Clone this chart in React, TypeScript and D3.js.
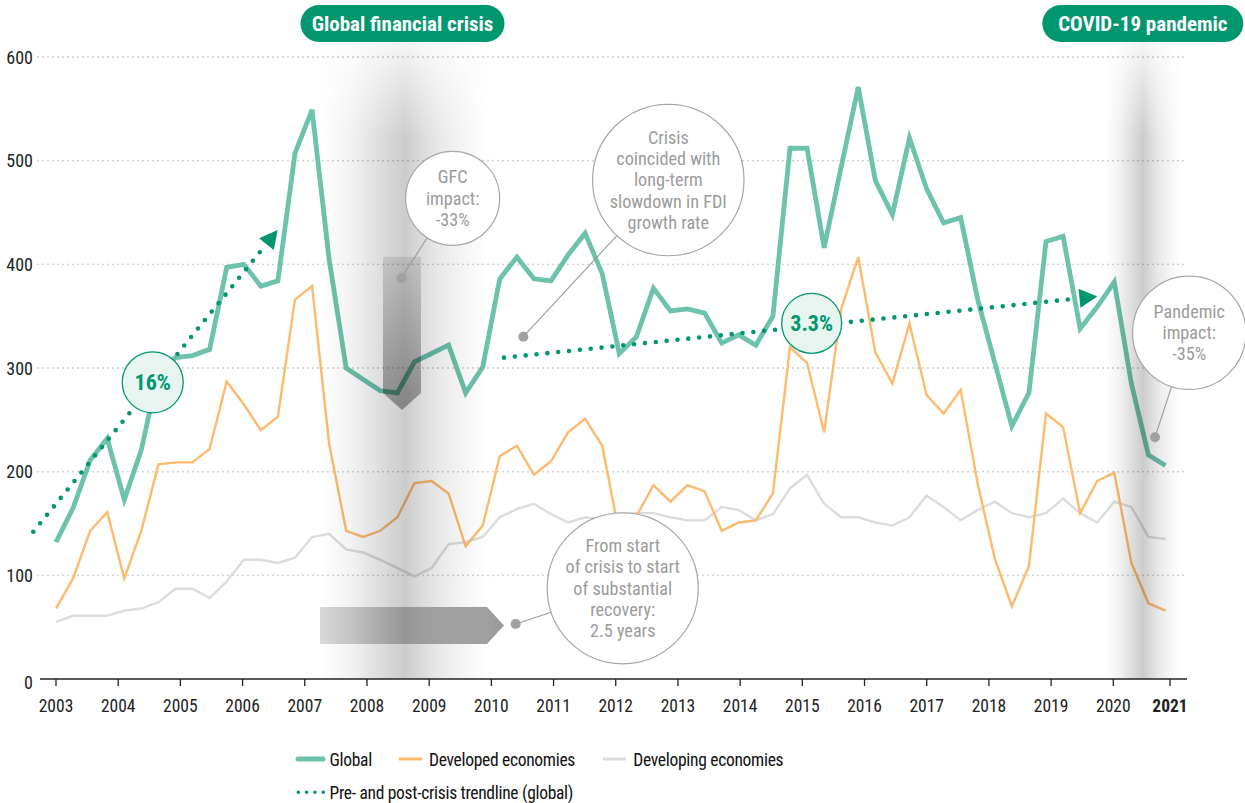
import React from "react";
import * as d3 from "d3";

// ---------- data ----------
const yearTicks = [2003, 2004, 2005, 2006, 2007, 2008, 2009, 2010, 2011, 2012, 2013, 2014, 2015, 2016, 2017, 2018, 2019, 2020, 2021];
const yTicks = [0, 100, 200, 300, 400, 500, 600];

const globalFDI = [
  132, 165, 211, 232, 173, 221, 297, 310, 312, 318, 397, 400, 379, 384, 507, 549,
  405, 300, 289, 278, 276, 306, 314, 322, 276, 301, 386, 407, 386, 384, 409, 430,
  391, 314, 330, 377, 355, 357, 353, 324, 332, 322, 350, 512, 512, 416, 494, 571,
  481, 448, 522, 473, 440, 445, 366, 305, 244, 276, 422, 427, 338, 359, 383, 285,
  216, 206,
];
const developedFDI = [
  68, 97, 143, 161, 97, 143, 207, 209, 209, 222, 287, 265, 240, 253, 366, 379,
  227, 143, 137, 143, 156, 189, 191, 179, 128, 148, 215, 225, 197, 210, 238, 251,
  225, 140, 157, 187, 171, 187, 181, 143, 151, 153, 179, 320, 305, 238, 357, 407,
  315, 285, 343, 274, 256, 279, 188, 116, 70, 109, 256, 243, 160, 191, 199, 112,
  73, 66,
];
const developingFDI = [
  55, 61, 61, 61, 66, 68, 74, 87, 87, 78, 94, 115, 115, 112, 117, 137,
  140, 125, 122, 115, 107, 99, 107, 130, 132, 137, 156, 164, 169, 159, 151, 156,
  154, 158, 160, 160, 156, 153, 153, 166, 163, 153, 159, 184, 197, 169, 156, 156,
  151, 148, 156, 177, 166, 153, 163, 171, 160, 156, 160, 174, 160, 151, 171, 166,
  137, 135,
];

const seriesNames = ["Global", "Developed economies", "Developing economies"];
const trendLabel = "Pre- and post-crisis trendline (global)";

// trendlines: [year, value] start and arrow tip
const preCrisisTrend: [number, number][] = [[2002.635, 142], [2006.565, 433]];
const postCrisisTrend: [number, number][] = [[2010.203, 310], [2019.744, 369]];
const preRate = "16%";
const postRate = "3.3%";

const crisisBands = [
  { label: "Global financial crisis", from: 2007.245, to: 2009.978 },
  { label: "COVID-19 pandemic", from: 2019.87, to: 2021.2 },
];

// ---------- styles ----------
const W = 1245;
const H = 803;
const FONT = "'Roboto Condensed', 'Roboto', sans-serif";
const GREEN = "#00966e";
const C_GLOBAL = "#6cc2aa";
const C_DEV = "#fdba6e";
const C_DEVING = "#dcdcdc";
const C_NOTE = "#9b9b9b";

export default function App() {
  const x = d3.scaleLinear().domain([0, globalFDI.length - 1]).range([56, 1165.5]);
  const xy = d3.scaleLinear().domain([2003, 2020, 2021]).range([56, 1113.3, 1170]);
  const y = d3.scaleLinear().domain([0, 600]).range([679, 57]);

  const line = d3
    .line<number>()
    .x((_, i) => x(i))
    .y((d) => y(d));

  const trend = (pts: [number, number][]) => {
    const x0 = xy(pts[0][0]);
    const y0 = y(pts[0][1]);
    const x1 = xy(pts[1][0]);
    const y1 = y(pts[1][1]);
    const L = Math.hypot(x1 - x0, y1 - y0);
    const ux = (x1 - x0) / L;
    const uy = (y1 - y0) / L;
    const e = L - 24;
    const bx = x1 - ux * 18;
    const by = y1 - uy * 18;
    const px = -uy * 9.5;
    const py = ux * 9.5;
    return {
      d: `M${x0},${y0}L${x0 + ux * e},${y0 + uy * e}`,
      arrow: `M${x1},${y1}L${bx + px},${by + py}L${bx - px},${by - py}Z`,
    };
  };
  const pre = trend(preCrisisTrend);
  const post = trend(postCrisisTrend);

  // callouts in data coordinates (year, value)
  const callouts = [
    { cx: 2009.378, cy: 463.7, r: 47, dot: [2008.555, 387.1], lines: ["GFC", "impact:", "-33%"] },
    { cx: 2012.845, cy: 481.3, r: 75.7, dot: [2010.514, 330.2], lines: ["Crisis", "coincided with", "long-term", "slowdown in FDI", "growth rate"] },
    { cx: 2012.112, cy: 87.5, r: 75.5, dot: [2010.391, 53.05], lines: ["From start", "of crisis to start", "of substantial", "recovery:", "2.5 years"] },
    { cx: 2021.34, cy: 334, r: 56.7, dot: [2020.735, 233.2], lines: ["Pandemic", "impact:", "-35%"] },
  ];

  const rateBubbles = [
    { cx: 2004.555, cy: 286.2, r: 30.5, text: preRate },
    { cx: 2015.15, cy: 343.1, r: 30, text: postRate },
  ];

  // gray arrows
  const vArrow = { xc: 2008.563, top: 407.3, shoulder: 275.9, tip: 259.5, half: 19 };
  const vx = xy(vArrow.xc);
  const vPath = `M${vx - vArrow.half},${y(vArrow.top)}L${vx + vArrow.half},${y(vArrow.top)}L${vx + vArrow.half},${y(vArrow.shoulder)}L${vx},${y(vArrow.tip)}L${vx - vArrow.half},${y(vArrow.shoulder)}Z`;
  const hArrow = { left: 2007.245, shoulder: 2009.93, tip: 2010.203, top: 69.45, bottom: 33.76 };
  const hMid = (hArrow.top + hArrow.bottom) / 2;
  const hPath = `M${xy(hArrow.left)},${y(hArrow.top)}L${xy(hArrow.shoulder)},${y(hArrow.top)}L${xy(hArrow.tip)},${y(hMid)}L${xy(hArrow.shoulder)},${y(hArrow.bottom)}L${xy(hArrow.left)},${y(hArrow.bottom)}Z`;

  const lh = 21.3;

  return (
    <div style={{ position: "absolute", left: 0, top: 0 }}>
      <svg width={W} height={H} style={{ display: "block", fontFamily: FONT }}>
        <defs>
          <linearGradient id="bandGrad" x1="0" x2="1" y1="0" y2="0">
            <stop offset="0" stopColor="#000" stopOpacity="0" />
            <stop offset="0.18" stopColor="#000" stopOpacity="0.05" />
            <stop offset="0.37" stopColor="#000" stopOpacity="0.14" />
            <stop offset="0.5" stopColor="#000" stopOpacity="0.2" />
            <stop offset="0.6" stopColor="#000" stopOpacity="0.14" />
            <stop offset="0.72" stopColor="#000" stopOpacity="0.08" />
            <stop offset="0.88" stopColor="#000" stopOpacity="0.03" />
            <stop offset="1" stopColor="#000" stopOpacity="0" />
          </linearGradient>
          <linearGradient id="bandFade" x1="0" x2="0" y1="0" y2="1">
            <stop offset="0" stopColor="#fff" stopOpacity="0.2" />
            <stop offset="0.15" stopColor="#fff" stopOpacity="1" />
            <stop offset="1" stopColor="#fff" stopOpacity="1" />
          </linearGradient>
          <mask id="bandMask" maskUnits="userSpaceOnUse" x="0" y="0" width={W} height={H}>
            <rect x={0} y={42} width={W} height={y(0) - 42} fill="url(#bandFade)" />
          </mask>
          <linearGradient id="vArrowGrad" x1="0" x2="0" y1="0" y2="1">
            <stop offset="0" stopColor="#000" stopOpacity="0.1" />
            <stop offset="1" stopColor="#000" stopOpacity="0.36" />
          </linearGradient>
          <linearGradient id="hArrowGrad" x1="0" x2="1" y1="0" y2="0">
            <stop offset="0" stopColor="#000" stopOpacity="0.15" />
            <stop offset="1" stopColor="#000" stopOpacity="0.4" />
          </linearGradient>
        </defs>

        {/* gridlines */}
        {yTicks.filter((t) => t > 0).map((t) => (
          <line key={t} x1={38} x2={1185} y1={y(t)} y2={y(t)} stroke="#c8c8c8" strokeWidth={1.8} strokeDasharray="0 5" strokeLinecap="round" />
        ))}

        {/* y labels */}
        {yTicks.map((t) => (
          <text key={t} x={33} y={y(t) + (t === 0 ? 10 : 6.5)} textAnchor="end" fontSize={18} fill="#222">
            {t}
          </text>
        ))}

        {/* series */}
        <path d={line(developingFDI) || ""} fill="none" stroke={C_DEVING} strokeWidth={2.4} />
        <path d={line(developedFDI) || ""} fill="none" stroke={C_DEV} strokeWidth={2.4} />
        <path d={line(globalFDI) || ""} fill="none" stroke={C_GLOBAL} strokeWidth={4.8} />

        {/* crisis bands */}
        <g mask="url(#bandMask)">
          {crisisBands.map((b) => (
            <rect key={b.label} x={xy(b.from)} y={42} width={xy(b.to) - xy(b.from)} height={y(0) - 42} fill="url(#bandGrad)" />
          ))}
        </g>

        {/* gray arrows */}
        <path d={vPath} fill="url(#vArrowGrad)" />
        <path d={hPath} fill="url(#hArrowGrad)" />

        {/* x axis */}
        <line x1={40} x2={1187} y1={y(0)} y2={y(0)} stroke="#222" strokeWidth={1.5} />
        {yearTicks.map((yr, i) => (
          <g key={yr}>
            <line x1={xy(yr)} x2={xy(yr)} y1={y(0)} y2={y(0) + 7} stroke="#222" strokeWidth={1.3} />
            <text x={xy(yr)} y={711.5} textAnchor="middle" fontSize={17.5} fill="#222" fontWeight={i === yearTicks.length - 1 ? "bold" : "normal"}>
              {yr}
            </text>
          </g>
        ))}

        {/* trendlines */}
        {[pre, post].map((t, i) => (
          <g key={i}>
            <path d={t.d} fill="none" stroke={GREEN} strokeWidth={4.6} strokeDasharray="0 10.9" strokeLinecap="round" />
            <path d={t.arrow} fill={GREEN} />
          </g>
        ))}

        {/* rate bubbles */}
        {rateBubbles.map((b) => (
          <g key={b.text}>
            <circle cx={xy(b.cx)} cy={y(b.cy)} r={b.r} fill="#e7f4f0" stroke={GREEN} strokeWidth={1.3} />
            <text x={xy(b.cx)} y={y(b.cy) + 7.5} textAnchor="middle" fontSize={22} fontWeight="bold" fill={GREEN}>
              {b.text}
            </text>
          </g>
        ))}

        {/* callouts */}
        {callouts.map((c, k) => {
          const cx = xy(c.cx);
          const cy = y(c.cy);
          const dx = xy(c.dot[0]);
          const dy = y(c.dot[1]);
          const L = Math.hypot(cx - dx, cy - dy);
          const ex = cx - ((cx - dx) / L) * c.r;
          const ey = cy - ((cy - dy) / L) * c.r;
          const n = c.lines.length;
          return (
            <g key={k}>
              <line x1={dx} y1={dy} x2={ex} y2={ey} stroke={C_NOTE} strokeWidth={1.1} />
              <circle cx={dx} cy={dy} r={5} fill="#a0a0a0" />
              <circle cx={cx} cy={cy} r={c.r} fill="#fff" stroke="#a6a6a6" strokeWidth={1.2} />
              {c.lines.map((s, j) => (
                <text key={j} x={cx} y={cy + (j - (n - 1) / 2) * lh + 6.4} textAnchor="middle" fontSize={18.2} fill={C_NOTE}>
                  {s}
                </text>
              ))}
            </g>
          );
        })}

        {/* pills */}
        {crisisBands.map((b, i) => {
          const pw = i === 0 ? 204 : 201;
          const px = i === 0 ? 300.5 : 1042.3;
          return (
            <g key={b.label}>
              <rect x={px} y={5} width={pw} height={37} rx={18.5} fill={GREEN} />
              <text x={px + pw / 2} y={30.8} textAnchor="middle" fontSize={21} fontWeight="bold" fill="#fff">
                {b.label}
              </text>
            </g>
          );
        })}

        {/* legend */}
        <g fontSize={17.5} letterSpacing={-0.3} fill="#111">
          <line x1={298} x2={323} y1={759} y2={759} stroke={C_GLOBAL} strokeWidth={5} strokeLinecap="round" />
          <text x={329.5} y={765.5}>{seriesNames[0]}</text>
          <line x1={399} x2={422} y1={759} y2={759} stroke={C_DEV} strokeWidth={3} />
          <text x={429} y={765.5}>{seriesNames[1]}</text>
          <line x1={603} x2={626} y1={759} y2={759} stroke={C_DEVING} strokeWidth={3} />
          <text x={633.3} y={765.5}>{seriesNames[2]}</text>
          <line x1={298.3} x2={323.3} y1={792.3} y2={792.3} stroke={GREEN} strokeWidth={3.6} strokeDasharray="0 8.33" strokeLinecap="round" />
          <text x={329.5} y={798.5}>{trendLabel}</text>
        </g>
      </svg>
    </div>
  );
}
